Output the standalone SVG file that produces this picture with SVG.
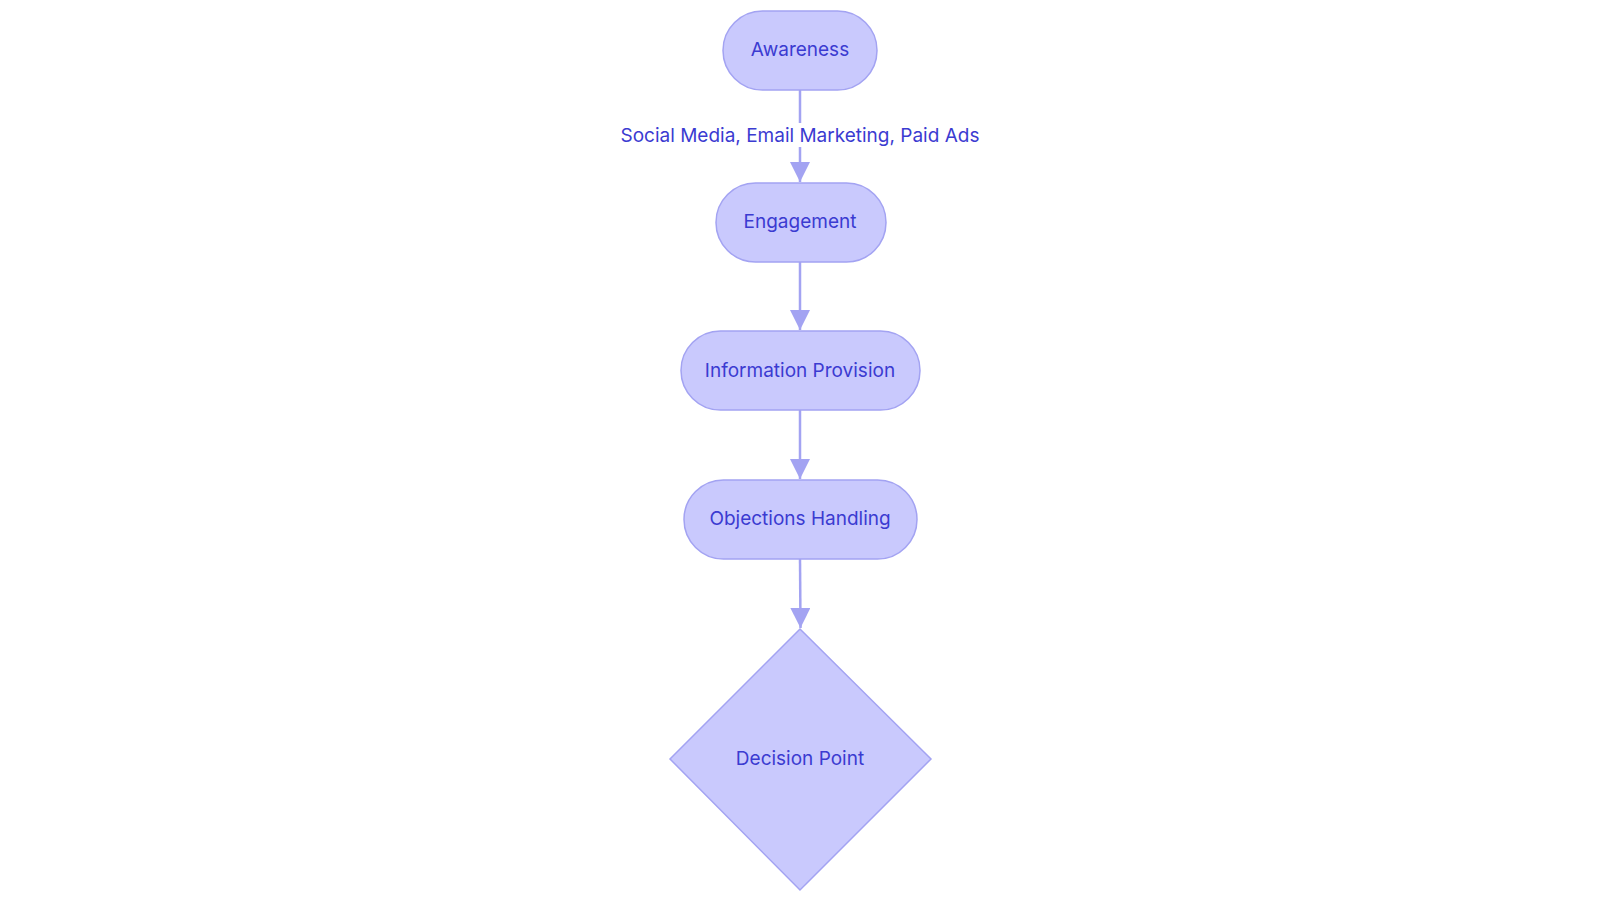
<svg xmlns="http://www.w3.org/2000/svg" width="1600" height="903" viewBox="0 0 1600 903">
<style>
.n{fill:#c9c9fd;stroke:#a3a3f2;stroke-width:1.5}
.t{font-family:Inter,"Noto Sans",sans-serif;font-size:19px;font-weight:400;fill:#3b3bd1;text-anchor:middle;dominant-baseline:central}
.e{stroke:#a3a3f2;stroke-width:2.5;fill:none;marker-end:url(#b)}
</style>
<defs><marker id="b" viewBox="0 0 10 10" refX="10" refY="5" markerWidth="8" markerHeight="8" orient="auto"><path d="M0,0L10,5L0,10z" fill="#a3a3f2"/></marker></defs>
<rect width="1600" height="903" fill="#fff"/>
<g id="edges">
<path class="e" d="M800,90V182"/>
<rect x="625" y="123" width="350" height="24" fill="#fff"/>
<text class="t" x="800" y="135">Social Media, Email Marketing, Paid Ads</text>
<path class="e" d="M800,262V330"/>
<path class="e" d="M800,410V479"/>
<path class="e" d="M800,559L800.5,628"/>
</g>
<g id="awareness"><rect class="n" x="723" y="11" width="154" height="79" rx="39.5"/><text class="t" x="800" y="49">Awareness</text></g>
<g id="engagement"><rect class="n" x="716" y="183" width="170" height="79" rx="39.5"/><text class="t" x="800" y="221">Engagement</text></g>
<g id="info"><rect class="n" x="681" y="331" width="239" height="79" rx="39.5"/><text class="t" x="800" y="370">Information Provision</text></g>
<g id="objections"><rect class="n" x="684" y="480" width="233" height="79" rx="39.5"/><text class="t" x="800" y="518">Objections Handling</text></g>
<g id="decision"><polygon class="n" points="800,629 931,759 800,890 670,759"/><text class="t" x="800" y="758">Decision Point</text></g>
</svg>
